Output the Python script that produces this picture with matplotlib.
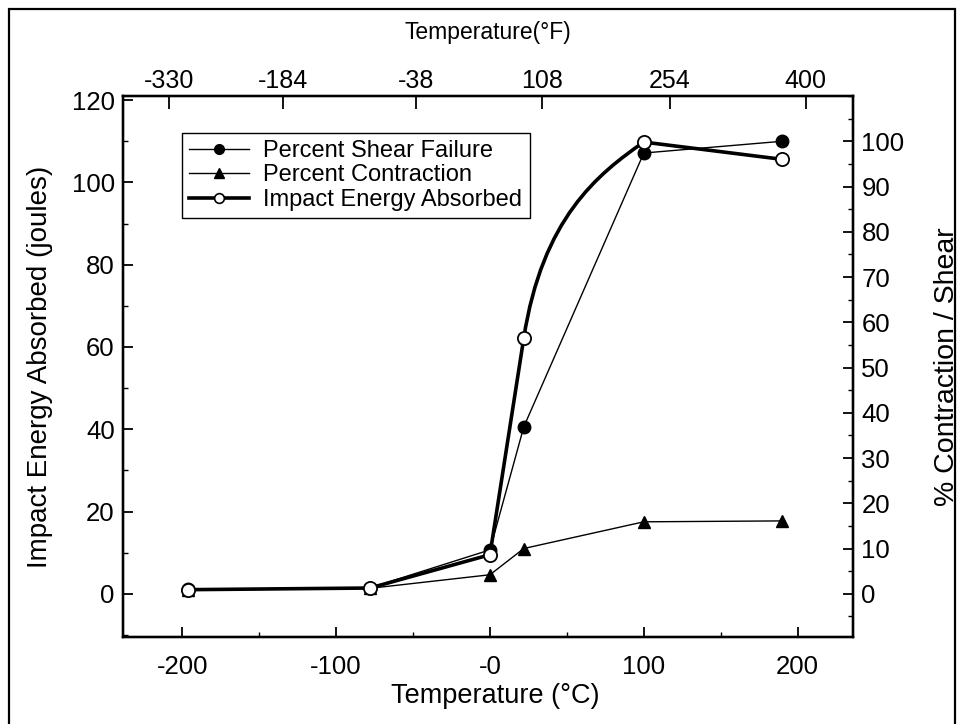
import matplotlib
matplotlib.use("Agg")
import matplotlib.pyplot as plt
from matplotlib.path import Path
from matplotlib.patches import PathPatch, Rectangle
from matplotlib.lines import Line2D
from matplotlib.ticker import MultipleLocator

plt.rcParams['font.family'] = ['Liberation Sans', 'DejaVu Sans']

# data
temp_c = [-196, -78, 0, 22, 100, 190]
impact_j = [1.0, 1.4, 9.5, 62.2, 109.8, 105.6]
shear_pct = [1.0, 1.3, 9.7, 36.9, 97.4, 100.0]
contraction_pct = [0.8, 1.2, 4.2, 10.0, 15.9, 16.1]

c_ticks = [-200, -100, 0, 100, 200]
c_labels = ['-200', '-100', '-0', '100', '200']
# top axis ticks sit where the original put them (in degC units)
f_ticks_c = [-208.4, -134.7, -48.1, 34.1, 116.9, 205.2]
f_labels = ['-330', '-184', '-38', '108', '254', '400']

legend_labels = ['Percent Shear Failure', 'Percent Contraction', 'Impact Energy Absorbed']

fig = plt.figure(figsize=(9.64, 7.24), dpi=100)
ax = fig.add_axes([0.1276, 0.1202, 0.7573, 0.7472])
axr = ax.twinx()
ax.set_zorder(axr.get_zorder() + 1)
ax.patch.set_visible(False)

# percent curves on the right axis
axr.plot(temp_c, shear_pct, '-o', color='k', lw=1.0, ms=9, mfc='k')
axr.plot(temp_c, contraction_pct, '-^', color='k', lw=1.0, ms=9, mfc='k')

# impact energy: straight segments, smooth bend between 22 and 100 C
p = list(zip(temp_c, impact_j))
c1 = (p[3][0] + 0.55 * (p[3][0] - p[2][0]), p[3][1] + 0.55 * (p[3][1] - p[2][1]))
c2 = (p[4][0] - 0.18 * (p[5][0] - p[3][0]), p[4][1] - 0.18 * (p[5][1] - p[3][1]))
verts = [p[0], p[1], p[2], p[3], c1, c2, p[4], p[5]]
codes = [Path.MOVETO, Path.LINETO, Path.LINETO, Path.LINETO,
         Path.CURVE4, Path.CURVE4, Path.CURVE4, Path.LINETO]
ax.add_patch(PathPatch(Path(verts, codes), fill=False, lw=2.6, ec='k',
                       joinstyle='round', capstyle='round'))
ax.plot(temp_c, impact_j, 'o', ls='none', ms=9.5, mfc='white', mec='k', mew=1.3)

ax.set_xlim(-238.5, 236)
ax.set_ylim(-10.5, 121)
axr.set_ylim(-9.55, 110)

ax.set_xticks(c_ticks)
ax.set_xticklabels(c_labels)
ax.xaxis.set_minor_locator(MultipleLocator(50))
ax.set_yticks(range(0, 121, 20))
ax.yaxis.set_minor_locator(MultipleLocator(10))
axr.set_yticks(range(0, 101, 10))
axr.yaxis.set_minor_locator(MultipleLocator(5))

axt = ax.twiny()
axt.set_xlim(ax.get_xlim())
axt.set_xticks(f_ticks_c)
axt.set_xticklabels(f_labels)
axt.xaxis.set_minor_locator(plt.NullLocator())

for a in (ax, axr, axt):
    a.tick_params(which='major', direction='in', length=7, width=1.3, labelsize=18.5, pad=6)
    a.tick_params(which='minor', direction='in', length=3.5, width=1.0)
    for s in a.spines.values():
        s.set_linewidth(1.6)
ax.tick_params(axis='x', which='major', pad=13)
axt.tick_params(which='major', length=9, labelsize=18, pad=2)

ax.set_xlabel('Temperature (°C)', fontsize=19.5, labelpad=3)
ax.xaxis.label.set_x(0.51)
ax.set_ylabel('Impact Energy Absorbed (joules)', fontsize=20, labelpad=13)
axr.set_ylabel('% Contraction / Shear', fontsize=20.5, labelpad=21)
axt.set_xlabel('Temperature(°F)', fontsize=16.5, labelpad=22)

handles = [
    Line2D([], [], color='k', lw=1.0, marker='o', ms=7, mfc='k'),
    Line2D([], [], color='k', lw=1.0, marker='^', ms=7, mfc='k'),
    Line2D([], [], color='k', lw=2.6, marker='o', ms=7, mfc='white', mew=1.2),
]
leg = ax.legend(handles, legend_labels, loc='upper left', bbox_to_anchor=(0.0808, 0.9316),
                borderaxespad=0, fontsize=17, frameon=True, fancybox=False,
                edgecolor='k', framealpha=1, handlelength=2.55, labelspacing=0.1,
                borderpad=0.3, handletextpad=0.6)
leg.get_frame().set_linewidth(1.0)

# outer frame around the whole picture
fig.patches.append(Rectangle((0.0093, -0.02), 0.9814, 1.0076, transform=fig.transFigure,
                             fill=False, lw=1.6, ec='k'))

fig.savefig('out.png', dpi=100)
